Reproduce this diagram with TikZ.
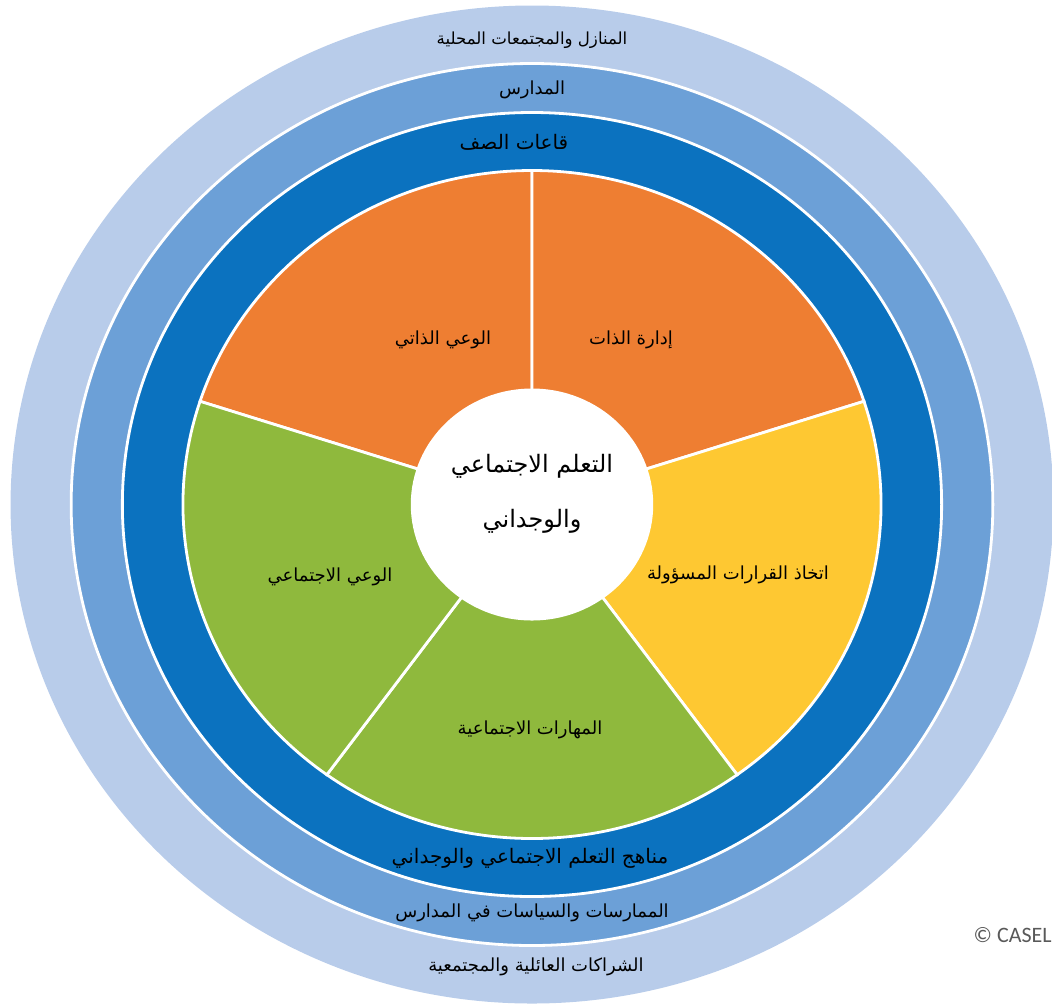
\documentclass[tikz,border=0pt]{standalone}
\usepackage{fontspec}
\usetikzlibrary{shapes,arrows,positioning}
\newfontfamily\arabicfont[Script=Arabic]{DejaVu Sans}
\newfontfamily\caselfont{Carlito}
\TeXXeTstate=1
\definecolor{ringlight}{HTML}{B8CCEA}
\definecolor{ringmid}{HTML}{6CA0D7}
\definecolor{ringdark}{HTML}{0B72BF}
\definecolor{selforange}{HTML}{EE7E32}
\definecolor{decideyellow}{HTML}{FEC832}
\definecolor{socialgreen}{HTML}{8FB93D}

\begin{document}
\begin{tikzpicture}[x=0.5pt,y=0.5pt,
  sep/.style={draw=white,line width=1.4pt},
  ringtext/.style={font=\arabicfont\fontsize{9}{11}\selectfont,text=black},
  wedgetext/.style={font=\arabicfont\fontsize{9}{11}\selectfont,text=black},
  hubtext/.style={font=\arabicfont\fontsize{12}{14}\selectfont,text=black,align=center}]
\useasboundingbox (-532,-498.5) rectangle (520,504.5);
\clip (-532,-498.5) rectangle (520,504.5);
\begin{scope}[xscale=1.045]
% the three rings
\fill[ringlight] (0,0) circle (499);
\filldraw[sep,fill=ringmid] (0,0) circle (441);
\filldraw[sep,fill=ringdark] (0,0) circle (392);
% five competences
\filldraw[sep,fill=selforange] (0,0) -- (90:334) arc (90:162:334) -- cycle;
\filldraw[sep,fill=selforange] (0,0) -- (18:334) arc (18:90:334) -- cycle;
\filldraw[sep,fill=decideyellow] (0,0) -- (-54:334) arc (-54:18:334) -- cycle;
\filldraw[sep,fill=socialgreen] (0,0) -- (-126:334) arc (-126:-54:334) -- cycle;
\filldraw[sep,fill=socialgreen] (0,0) -- (162:334) arc (162:234:334) -- cycle;
% hub
\fill[white] (0,0) circle (116);
\end{scope}

       \node [ringtext,font=\arabicfont\fontsize{8.3}{10}\selectfont]  (homes) at (0,464.5) {\beginR المنازل والمجتمعات المحلية\endR};
       \node [ringtext]  (schools) at (0,414.5) {\beginR المدارس\endR};
       \node [ringtext,font=\arabicfont\fontsize{10}{12}\selectfont]  (classes) at (-18,362.5) {\beginR قاعات الصف\endR};
       \node [wedgetext] (selfaware) at (-89,164.5) {\beginR الوعي الذاتي\endR};
       \node [wedgetext] (selfmanage) at (99,164.5) {\beginR إدارة الذات\endR};
       \node [hubtext]   (hubtop) at (0,38) {\beginR التعلم الاجتماعي\endR};
       \node [hubtext]   (hubbottom) at (0,-17) {\beginR والوجداني\endR};
       \node [wedgetext] (socaware) at (-202,-72.5) {\beginR الوعي الاجتماعي\endR};
       \node [wedgetext] (decisions) at (206,-70.5) {\beginR اتخاذ القرارات المسؤولة\endR};
       \node [wedgetext] (socskills) at (-2,-225.5) {\beginR المهارات الاجتماعية\endR};
       \node [ringtext,font=\arabicfont\fontsize{10}{12}\selectfont]  (curricula) at (-2,-353.5) {\beginR مناهج التعلم الاجتماعي والوجداني\endR};
       \node [ringtext]  (policies) at (0,-408.5) {\beginR الممارسات والسياسات في المدارس\endR};
       \node [ringtext]  (partners) at (4,-462.5) {\beginR الشراكات العائلية والمجتمعية\endR};
       \node [anchor=east,inner sep=0pt,text=black!65,font=\caselfont\fontsize{11}{13}\selectfont] (casel) at (520,-431) {© CASEL};
\end{tikzpicture}
\end{document}
